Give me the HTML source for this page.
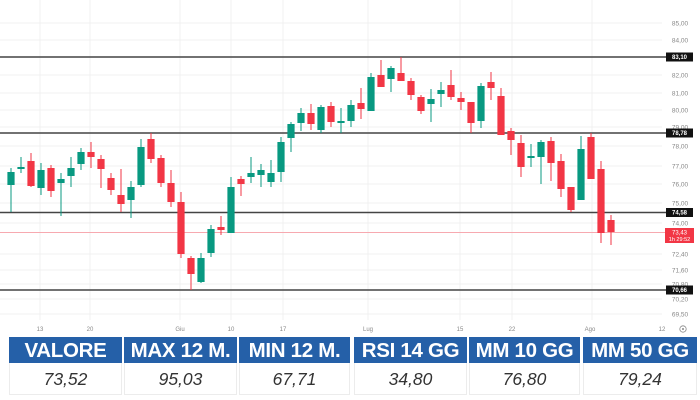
<!DOCTYPE html>
<html><head><meta charset="utf-8"><style>
html,body{margin:0;padding:0;background:#fff;}
body{width:700px;height:400px;position:relative;overflow:hidden;font-family:"Liberation Sans",sans-serif;}
svg{position:absolute;left:0;top:0;}
.h{position:absolute;top:337px;height:26px;background:#2560a8;color:#fff;font-weight:bold;font-size:20.5px;line-height:27px;text-align:center;letter-spacing:-0.3px;}
.v{position:absolute;top:363px;height:32px;background:#fff;color:#333;font-style:italic;font-size:17.5px;line-height:32px;text-align:center;border:1px solid #ececec;border-top:none;box-sizing:border-box;}
</style></head><body>
<svg width="700" height="400" viewBox="0 0 700 400" xmlns="http://www.w3.org/2000/svg">
<g stroke="#f1f1f1" stroke-width="1">
<line x1="0" y1="23" x2="662" y2="23"/><line x1="0" y1="40" x2="662" y2="40"/><line x1="0" y1="75" x2="662" y2="75"/><line x1="0" y1="93" x2="662" y2="93"/><line x1="0" y1="110" x2="662" y2="110"/><line x1="0" y1="127" x2="662" y2="127"/><line x1="0" y1="146" x2="662" y2="146"/><line x1="0" y1="166" x2="662" y2="166"/><line x1="0" y1="184" x2="662" y2="184"/><line x1="0" y1="203" x2="662" y2="203"/><line x1="0" y1="223" x2="662" y2="223"/><line x1="0" y1="254" x2="662" y2="254"/><line x1="0" y1="270" x2="662" y2="270"/><line x1="0" y1="284" x2="662" y2="284"/><line x1="0" y1="299" x2="662" y2="299"/><line x1="0" y1="314" x2="662" y2="314"/>
<line x1="40" y1="0" x2="40" y2="320"/><line x1="90" y1="0" x2="90" y2="320"/><line x1="180" y1="0" x2="180" y2="320"/><line x1="231" y1="0" x2="231" y2="320"/><line x1="283" y1="0" x2="283" y2="320"/><line x1="368" y1="0" x2="368" y2="320"/><line x1="460" y1="0" x2="460" y2="320"/><line x1="512" y1="0" x2="512" y2="320"/><line x1="592" y1="0" x2="592" y2="320"/>
</g>
<line x1="0" y1="232.5" x2="665" y2="232.5" stroke="#f7a9b0" stroke-width="1"/>
<g stroke="#444" stroke-width="1.5">
<line x1="0" y1="57" x2="666" y2="57"/><line x1="0" y1="133" x2="666" y2="133"/><line x1="0" y1="212.5" x2="666" y2="212.5"/><line x1="0" y1="290" x2="666" y2="290"/>
</g>
<g id="c"></g>
<g font-family="Liberation Sans, sans-serif" font-size="6.5" fill="#888" text-anchor="middle">
<text x="680" y="25.5">85,00</text><text x="680" y="42.5">84,00</text><text x="680" y="77.5">82,00</text><text x="680" y="95.5">81,00</text><text x="680" y="112.5">80,00</text><text x="680" y="129.5">79,00</text><text x="680" y="148.5">78,00</text><text x="680" y="168.5">77,00</text><text x="680" y="186.5">76,00</text><text x="680" y="205.5">75,00</text><text x="680" y="225.5">74,00</text><text x="680" y="256.5">72,40</text><text x="680" y="272.5">71,60</text><text x="680" y="286.5">70,80</text><text x="680" y="301.5">70,20</text><text x="680" y="316.5">69,50</text>
</g>
<g font-family="Liberation Sans, sans-serif" font-size="6" fill="#888" text-anchor="middle">
<text x="40" y="331">13</text><text x="90" y="331">20</text><text x="180" y="331">Giu</text><text x="231" y="331">10</text><text x="283" y="331">17</text><text x="368" y="331">Lug</text><text x="460" y="331">15</text><text x="512" y="331">22</text><text x="590" y="331">Ago</text><text x="662" y="331">12</text>
</g>
<circle cx="683" cy="329" r="3.2" fill="none" stroke="#888" stroke-width="0.8"/><circle cx="683" cy="329" r="1" fill="#888"/>
<g font-family="Liberation Sans, sans-serif" font-size="6" font-weight="bold" fill="#fff" text-anchor="middle">
<rect x="666" y="52.5" width="27" height="9" fill="#111"/><text x="679.5" y="59.2">83,10</text>
<rect x="666" y="128.5" width="27" height="9" fill="#111"/><text x="679.5" y="135.2">78,78</text>
<rect x="666" y="208" width="27" height="9" fill="#111"/><text x="679.5" y="214.7">74,58</text>
<rect x="666" y="285.5" width="27" height="9" fill="#111"/><text x="679.5" y="292.2">70,66</text>
<rect x="665" y="228" width="29" height="15" fill="#f23645"/><text x="679.5" y="234.5" font-weight="normal">73,43</text><text x="679.5" y="241" font-weight="normal" font-size="5.5">1h 29:52</text>
</g>
</svg>
<div class="h" style="left:9px;width:113px">VALORE</div>
<div class="h" style="left:124px;width:113px">MAX 12 M.</div>
<div class="h" style="left:239px;width:111px">MIN 12 M.</div>
<div class="h" style="left:354px;width:113px">RSI 14 GG</div>
<div class="h" style="left:469px;width:111px">MM 10 GG</div>
<div class="h" style="left:583px;width:114px">MM 50 GG</div>
<div class="v" style="left:9px;width:113px">73,52</div>
<div class="v" style="left:124px;width:113px">95,03</div>
<div class="v" style="left:239px;width:111px">67,71</div>
<div class="v" style="left:354px;width:113px">34,80</div>
<div class="v" style="left:469px;width:111px">76,80</div>
<div class="v" style="left:583px;width:114px">79,24</div>
<script>
var d=[[11,'G',172,185,168,212],[21,'G',167,169,157,173],[31,'R',161,186,153,187],[41,'G',170,188,163,195],[51,'R',168,191,165,197],[61,'G',179,183,173,216],[71,'G',168,176,157,187],[81,'G',152,164,148,170],[91,'R',152,157,142,168],[101,'R',159,169,155,188],[111,'R',178,190,173,195],[121,'R',195,204,169,212],[131,'G',187,200,181,218],[141,'G',147,185,139,187],[151,'R',139,159,133,163],[161,'R',158,183,155,187],[171,'R',183,202,170,207],[181,'R',202,254,192,258],[191,'R',258,274,256,290],[201,'G',258,282,253,283],[211,'G',229,253,225,257],[221,'R',227,230,216,235],[231,'G',187,233,177,233],[241,'R',179,184,176,196],[251,'G',173,177,157,183],[261,'G',170,175,164,187],[271,'G',173,182,160,187],[281,'G',142,172,137,182],[291,'G',124,138,122,152],[301,'G',113,123,108,131],[311,'R',113,124,104,130],[321,'G',107,130,105,133],[331,'R',106,122,102,127],[341,'G',121,123,108,133],[351,'G',105,121,100,127],[361,'R',103,109,88,119],[371,'G',77,111,73,111],[381,'R',75,87,60,87],[391,'G',68,79,66,92],[401,'R',73,81,57,81],[411,'R',81,95,78,100],[421,'R',97,111,95,114],[431,'G',99,104,89,122],[441,'G',90,94,82,107],[451,'R',85,97,70,100],[461,'R',98,102,92,110],[471,'R',102,123,102,133],[481,'G',86,121,83,128],[491,'R',82,88,72,100],[501,'R',96,135,88,135],[511,'R',131,140,128,155],[521,'R',143,167,135,177],[531,'G',156,158,144,167],[541,'G',142,157,140,184],[551,'R',141,163,137,181],[561,'R',161,189,154,197],[571,'R',187,210,187,212],[581,'G',149,200,136,200],[591,'R',137,179,133,179],[601,'R',169,233,161,243],[611,'R',220,232,215,245]];
var s='';d.forEach(function(c){var col=c[1]=='G'?'#089981':'#f23645';var h=Math.max(c[3]-c[2],1.5);s+='<line x1="'+c[0]+'" y1="'+c[4]+'" x2="'+c[0]+'" y2="'+c[5]+'" stroke="'+col+'" stroke-width="1"/><rect x="'+(c[0]-3.6)+'" y="'+c[2]+'" width="7.2" height="'+h+'" fill="'+col+'"/>';});
document.getElementById('c').innerHTML=s;
</script>
</body></html>
